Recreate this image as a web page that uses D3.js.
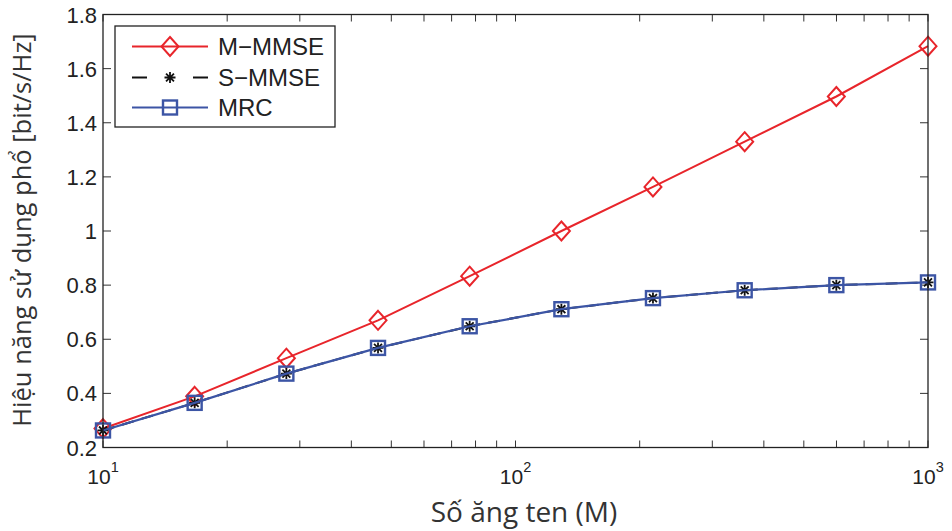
<!DOCTYPE html>
<html>
<head>
<meta charset="utf-8">
<script src="https://cdn.jsdelivr.net/npm/d3@7"></script>
<style>
  html, body { margin: 0; padding: 0; background: #fff; }
  svg { display: block; }
</style>
</head>
<body>
<svg id="chart" width="952" height="531"></svg>
<script>
// Number of antennas (log-spaced from 10 to 1000)
const antennas = [10, 16.68, 27.83, 46.42, 77.43, 129.2, 215.4, 359.4, 599.5, 1000];
// Spectral efficiency per scheme [bit/s/Hz]
const mMmse = [0.27, 0.389, 0.530, 0.670, 0.833, 1.000, 1.163, 1.330, 1.497, 1.683];
const sMmse = [0.263, 0.365, 0.473, 0.568, 0.648, 0.711, 0.752, 0.781, 0.800, 0.810];
const mrc   = [0.263, 0.365, 0.473, 0.568, 0.648, 0.711, 0.752, 0.781, 0.800, 0.810];
const seriesNames = ["M\u2212MMSE", "S\u2212MMSE", "MRC"];
const yTicks = [0.2, 0.4, 0.6, 0.8, 1, 1.2, 1.4, 1.6, 1.8];
const xMajorTicks = [10, 100, 1000];
const xLabel = "Số ăng ten (M)";
const yLabel = "Hiệu năng sử dụng phổ [bit/s/Hz]";

const RED = "#e8252b";
const BLUE = "#3c55a5";
const tickFont = "Liberation Sans, Arial, sans-serif";
const labelFont = "Open Sans, Noto Sans, sans-serif";

const svg = d3.select("#chart");
const L = 103, R = 928, T = 14.5, B = 447.5;

const x = d3.scaleLog().domain([10, 1000]).range([L, R]);
const y = d3.scaleLinear().domain([0.2, 1.8]).range([B, T]);

// minor ticks for the log axis
const xMinor = [];
for (const dec of [10, 100]) for (let k = 2; k <= 9; k++) xMinor.push(dec * k);

const axisG = svg.append("g");
const tickLen = 8;
const tickStroke = "#333";

// y ticks on both sides, pointing inward
yTicks.forEach(v => {
  axisG.append("line").attr("x1", L).attr("x2", L + tickLen).attr("y1", y(v)).attr("y2", y(v)).attr("stroke", tickStroke).attr("stroke-width", 1);
  axisG.append("line").attr("x1", R).attr("x2", R - tickLen).attr("y1", y(v)).attr("y2", y(v)).attr("stroke", tickStroke).attr("stroke-width", 1);
});
// x ticks (major + minor) on top and bottom
xMajorTicks.concat(xMinor).forEach(v => {
  const len = 7;
  axisG.append("line").attr("x1", x(v)).attr("x2", x(v)).attr("y1", B).attr("y2", B - len).attr("stroke", tickStroke).attr("stroke-width", 1);
  axisG.append("line").attr("x1", x(v)).attr("x2", x(v)).attr("y1", T).attr("y2", T + len).attr("stroke", tickStroke).attr("stroke-width", 1);
});

// y tick labels
svg.append("g").selectAll("text").data(yTicks).join("text")
  .attr("x", L - 6).attr("y", d => y(d) + 8)
  .attr("text-anchor", "end")
  .attr("font-family", tickFont).attr("font-size", 22).attr("fill", "#222")
  .text(d => d3.format("~g")(d));

// x tick labels as 10 with superscript exponent
const xl = svg.append("g").selectAll("text").data(xMajorTicks).join("text")
  .attr("x", d => x(d)).attr("y", 483.5)
  .attr("text-anchor", "middle")
  .attr("font-family", tickFont).attr("font-size", 21).attr("fill", "#222");
xl.append("tspan").text("10");
xl.append("tspan").attr("dy", -12).attr("font-size", 14.5).text(d => Math.round(Math.log10(d)));

// data lines
const line = d3.line().x(d => x(d[0])).y(d => y(d[1]));
const zip = vals => antennas.map((a, i) => [a, vals[i]]);

const plot = svg.append("g");

function diamond(g, cx, cy) {
  g.append("path")
    .attr("d", `M${cx},${cy - 9.5}L${cx + 8.5},${cy}L${cx},${cy + 9.5}L${cx - 8.5},${cy}Z`)
    .attr("fill", "none").attr("stroke", RED).attr("stroke-width", 2);
}
function asterisk(g, cx, cy) {
  const r = 5.5, d = r * 0.72;
  g.append("path")
    .attr("d", `M${cx - r},${cy}H${cx + r}M${cx},${cy - r}V${cy + r}M${cx - d},${cy - d}L${cx + d},${cy + d}M${cx - d},${cy + d}L${cx + d},${cy - d}`)
    .attr("stroke", "#111").attr("stroke-width", 1.8).attr("fill", "none");
}
function square(g, cx, cy) {
  g.append("rect").attr("x", cx - 7).attr("y", cy - 7).attr("width", 14).attr("height", 14)
    .attr("fill", "none").attr("stroke", BLUE).attr("stroke-width", 2.4);
}

// M-MMSE
plot.append("path").datum(zip(mMmse)).attr("d", line).attr("fill", "none").attr("stroke", RED).attr("stroke-width", 2);
zip(mMmse).forEach(p => diamond(plot, x(p[0]), y(p[1])));
// S-MMSE
plot.append("path").datum(zip(sMmse)).attr("d", line).attr("fill", "none").attr("stroke", "#111").attr("stroke-width", 2).attr("stroke-dasharray", "12,8");
zip(sMmse).forEach(p => asterisk(plot, x(p[0]), y(p[1])));
// MRC
plot.append("path").datum(zip(mrc)).attr("d", line).attr("fill", "none").attr("stroke", BLUE).attr("stroke-width", 2.2);
zip(mrc).forEach(p => square(plot, x(p[0]), y(p[1])));

// frame
svg.append("rect").attr("x", L).attr("y", T).attr("width", R - L).attr("height", B - T)
  .attr("fill", "none").attr("stroke", "#222").attr("stroke-width", 1.3);

// legend
const lg = svg.append("g");
lg.append("rect").attr("x", 115).attr("y", 26).attr("width", 220).attr("height", 101)
  .attr("fill", "#fff").attr("stroke", "#222").attr("stroke-width", 1.3);
const rowsY = [46.5, 77.5, 107.5];
// M-MMSE row
lg.append("line").attr("x1", 132).attr("x2", 208).attr("y1", rowsY[0]).attr("y2", rowsY[0]).attr("stroke", RED).attr("stroke-width", 2);
diamond(lg, 170, rowsY[0]);
// S-MMSE row
lg.append("line").attr("x1", 132).attr("x2", 208).attr("y1", rowsY[1]).attr("y2", rowsY[1]).attr("stroke", "#111").attr("stroke-width", 2).attr("stroke-dasharray", "15,46,15");
asterisk(lg, 170, rowsY[1]);
// MRC row
lg.append("line").attr("x1", 132).attr("x2", 208).attr("y1", rowsY[2]).attr("y2", rowsY[2]).attr("stroke", BLUE).attr("stroke-width", 2.2);
square(lg, 170, rowsY[2]);
lg.selectAll("text.lab").data(seriesNames).join("text").attr("class", "lab")
  .attr("x", 218).attr("y", (d, i) => rowsY[i] + 8.6)
  .attr("font-family", tickFont).attr("font-size", 24).attr("fill", "#222")
  .text(d => d);

// axis titles
svg.append("text").attr("x", 524).attr("y", 522).attr("text-anchor", "middle")
  .attr("font-family", labelFont).attr("font-size", 28).attr("fill", "#333").text(xLabel);
svg.append("text").attr("transform", "translate(31,230) rotate(-90)").attr("text-anchor", "middle")
  .attr("font-family", labelFont).attr("font-size", 25.5).attr("fill", "#333").text(yLabel);
</script>
</body>
</html>
